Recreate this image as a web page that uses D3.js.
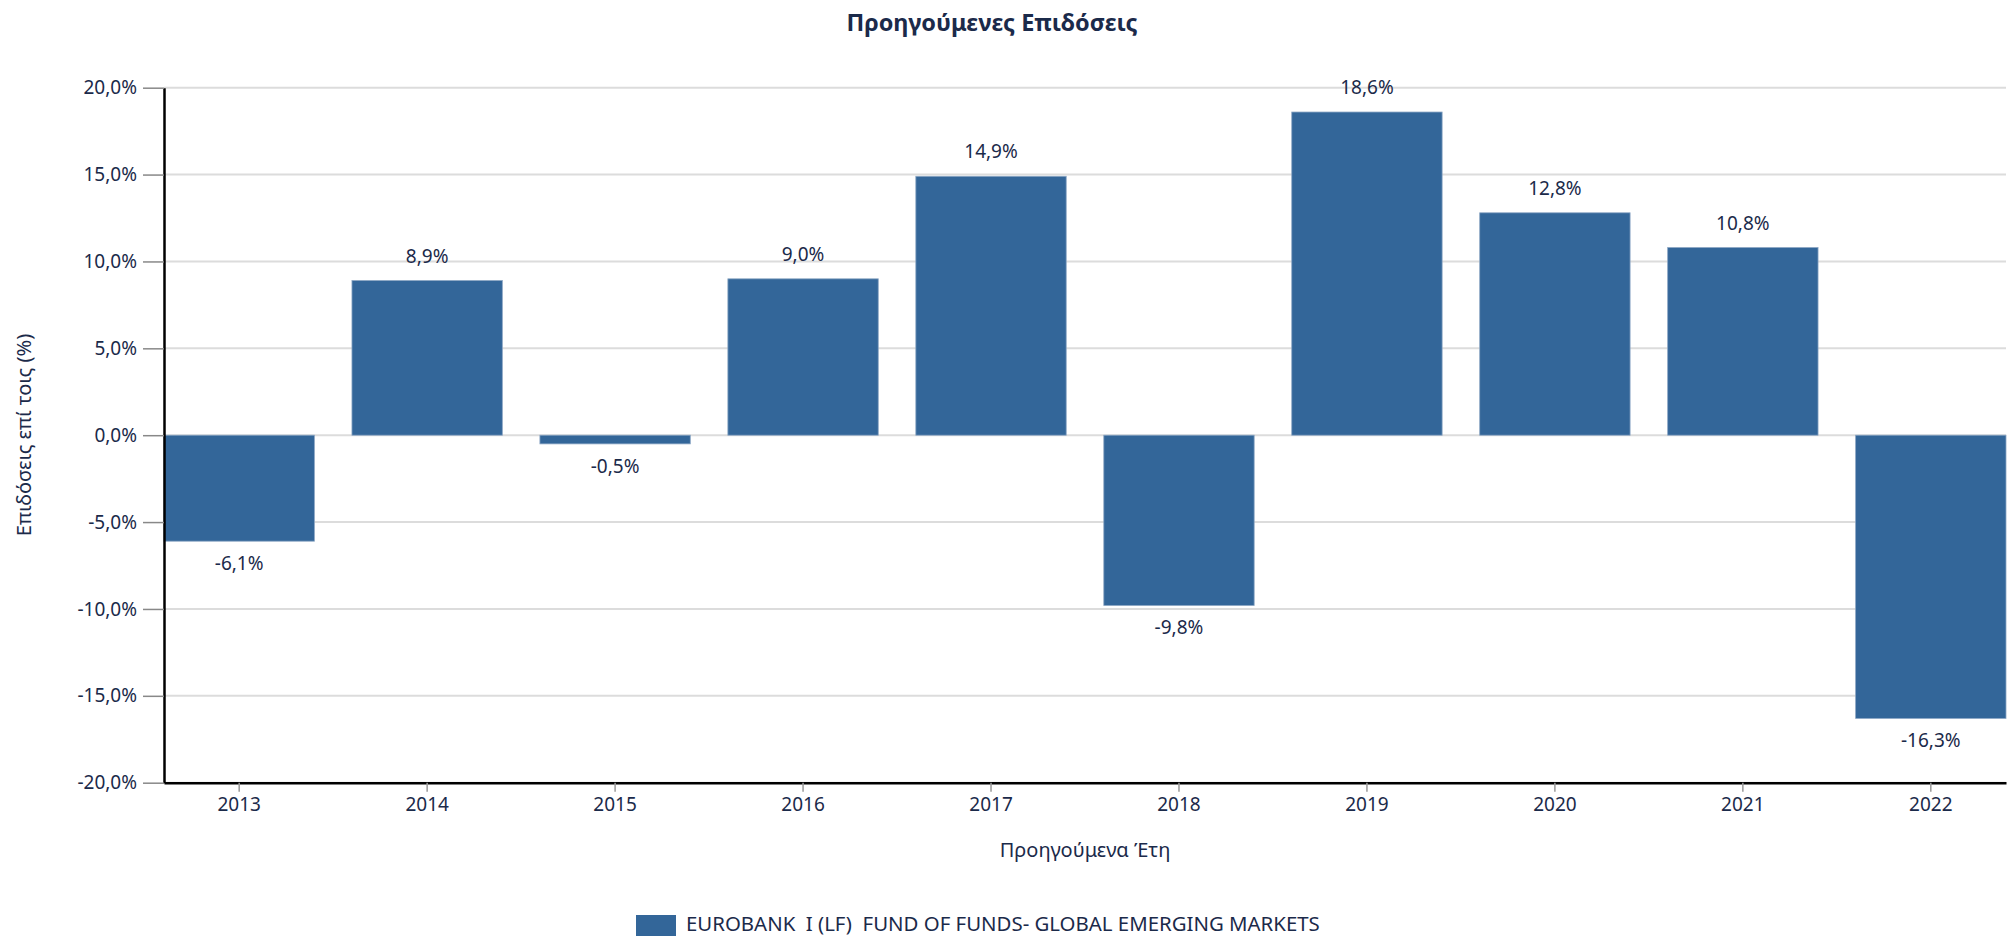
<!DOCTYPE html>
<html>
<head>
<meta charset="utf-8">
<script src="https://cdn.jsdelivr.net/npm/d3@7"></script>
<style>
  body { margin: 0; background: #fff; }
  text { font-family: "Noto Sans", sans-serif; fill: #1b2a4a; }
</style>
</head>
<body>
<div id="chart"></div>
<script>
// yearly returns (%)
var years = ["2013", "2014", "2015", "2016", "2017", "2018", "2019", "2020", "2021", "2022"];
var returns = [-6.1, 8.9, -0.5, 9.0, 14.9, -9.8, 18.6, 12.8, 10.8, -16.3];
var yTicks = [-20, -15, -10, -5, 0, 5, 10, 15, 20];
var seriesName = "EUROBANK  I (LF)  FUND OF FUNDS- GLOBAL EMERGING MARKETS";

var width = 2015, height = 936;
var plotLeft = 164, plotRight = 2006, plotTop = 87.7, plotBottom = 782.7;
var barColor = "#336699";

var gr = d3.formatLocale({decimal: ",", thousands: ".", grouping: [3], currency: ["", "€"], minus: "-"});
var fmt = gr.format(".1f");
function pct(v) { return fmt(v) + "%"; }

var svg = d3.select("#chart")
    .append("svg")
    .attr("width", width)
    .attr("height", height);

var x = d3.scaleBand()
    .domain(years)
    .range([plotLeft, plotRight])
    .paddingInner(0.2)
    .paddingOuter(0);

var y = d3.scaleLinear()
    .domain([-20, 20])
    .range([plotBottom, plotTop]);

// gridlines
svg.append("g")
    .selectAll("line")
    .data(yTicks)
    .enter()
    .append("line")
    .attr("x1", plotLeft)
    .attr("x2", plotRight)
    .attr("y1", function(d) { return y(d); })
    .attr("y2", function(d) { return y(d); })
    .attr("stroke", "#dcdcdc")
    .attr("stroke-width", 2);

// bars
var data = years.map(function(yr, i) { return {year: yr, value: returns[i]}; });

svg.append("g")
    .selectAll("rect")
    .data(data)
    .enter()
    .append("rect")
    .attr("x", function(d) { return x(d.year); })
    .attr("y", function(d) { return y(Math.max(0, d.value)); })
    .attr("width", x.bandwidth())
    .attr("height", function(d) { return Math.abs(y(d.value) - y(0)); })
    .attr("fill", barColor)
    .attr("stroke", "#8aa5c3")
    .attr("stroke-width", 0.8);

// value labels
svg.append("g")
    .selectAll("text")
    .data(data)
    .enter()
    .append("text")
    .attr("x", function(d) { return x(d.year) + x.bandwidth() / 2; })
    .attr("y", function(d) { return d.value >= 0 ? y(d.value) - 18 : y(d.value) + 29; })
    .attr("text-anchor", "middle")
    .style("font-size", "19px")
    .text(function(d) { return pct(d.value); });

// y axis
var yAxis = svg.append("g")
    .attr("transform", "translate(" + plotLeft + ",0)")
    .call(d3.axisLeft(y).tickValues(yTicks).tickSize(21).tickSizeOuter(0).tickPadding(6).tickFormat(pct));
yAxis.select(".domain").attr("stroke", "#000").attr("stroke-width", 2.5);
yAxis.selectAll(".tick line").attr("stroke", "#888").attr("stroke-width", 1.5);
yAxis.selectAll(".tick text").style("font-size", "19px").attr("fill", "#1b2a4a");

// x axis
var xAxis = svg.append("g")
    .attr("transform", "translate(0," + plotBottom + ")")
    .call(d3.axisBottom(x).tickSize(9).tickSizeOuter(0).tickPadding(6));
xAxis.select(".domain").attr("stroke", "#000").attr("stroke-width", 2.5);
xAxis.selectAll(".tick line").attr("stroke", "#999").attr("stroke-width", 1.5);
xAxis.selectAll(".tick text").style("font-size", "19px").attr("fill", "#1b2a4a");

// titles
svg.append("text")
    .attr("x", 992)
    .attr("y", 30.7)
    .attr("text-anchor", "middle")
    .style("font-size", "23.5px")
    .style("font-weight", "bold")
    .text("Προηγούμενες Επιδόσεις");

svg.append("text")
    .attr("transform", "translate(30.7,435) rotate(-90)")
    .attr("text-anchor", "middle")
    .style("font-size", "20px")
    .text("Επιδόσεις επί τοις (%)");

svg.append("text")
    .attr("x", (plotLeft + plotRight) / 2)
    .attr("y", 856.7)
    .attr("text-anchor", "middle")
    .style("font-size", "20px")
    .text("Προηγούμενα Έτη");

// legend
svg.append("rect")
    .attr("x", 636)
    .attr("y", 915)
    .attr("width", 40)
    .attr("height", 21)
    .attr("fill", barColor);

svg.append("text")
    .attr("x", 686)
    .attr("y", 931)
    .style("font-size", "20.4px")
    .style("white-space", "pre")
    .attr("xml:space", "preserve")
    .text(seriesName);
</script>
</body>
</html>
